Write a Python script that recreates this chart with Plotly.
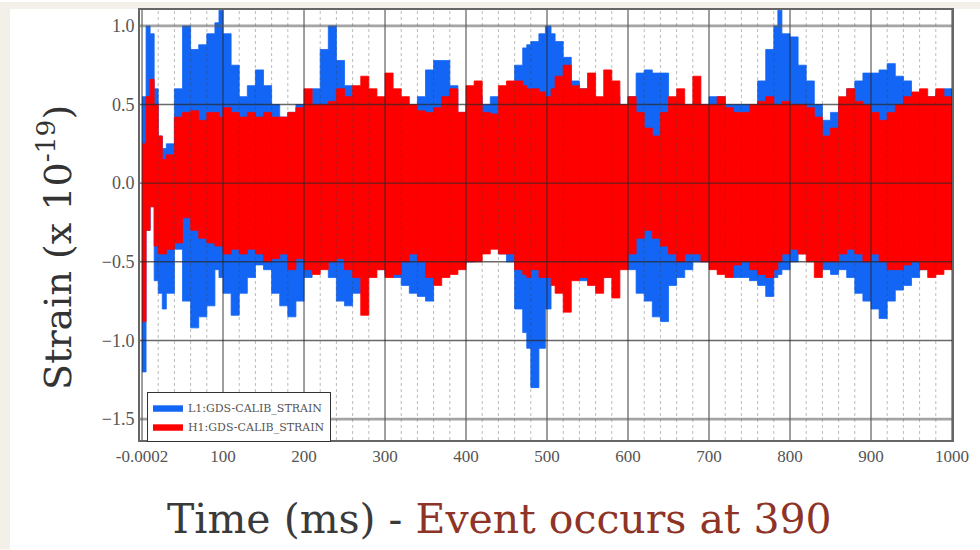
import plotly.graph_objects as go

# ---- data (envelopes of the two strain channels) ----
T = [0, 5, 10, 15, 20, 25, 30,
     40, 50, 60, 70, 80, 90,
     95,
     100, 110, 120, 130, 140, 150, 160, 170, 180, 190,
     200, 210, 220, 230, 240, 250, 260, 270, 280, 290,
     300, 310, 320, 330, 340, 350, 360, 370, 380, 390,
     400, 410, 420, 430, 440, 450, 460, 470,
     475,
     480, 490,
     498, 505,
     510, 520, 530, 540, 550, 560, 570, 580, 590,
     600, 610, 620, 630, 640, 650, 660, 670, 680, 690,
     700, 710, 720, 730, 740, 750, 760, 770, 780,
     785,
     790, 800, 810, 820, 830, 840, 850, 860, 870, 880, 890,
     900, 910, 920, 930, 940, 950, 960, 970, 980, 990, 1000]

L1_UPPER = [0.55, 1.0, 0.95, 0.6, 0.3, 0.22, 0.25,
            0.6, 1.0, 0.85, 0.88, 0.95, 1.02,
            1.1,
            0.95, 0.75, 0.55, 0.62, 0.72, 0.62, 0.5, 0.42, 0.45, 0.5,
            0.5, 0.6, 0.85, 1.0, 0.78, 0.62, 0.55, 0.55, 0.5, 0.5,
            0.55, 0.52, 0.45, 0.45, 0.55, 0.72, 0.78, 0.78, 0.62, 0.45,
            0.5, 0.55, 0.5, 0.55, 0.55, 0.6, 0.75, 0.86,
            0.88,
            0.9, 0.95,
            1.0, 0.95,
            0.9, 0.8, 0.65, 0.6, 0.55, 0.5, 0.55, 0.55, 0.5,
            0.55, 0.7, 0.72, 0.7, 0.7, 0.5, 0.5, 0.45, 0.5, 0.5,
            0.55, 0.55, 0.5, 0.5, 0.5, 0.45, 0.65, 0.85, 1.0,
            1.1,
            0.95, 0.93, 0.75, 0.65, 0.5, 0.4, 0.45, 0.5, 0.6, 0.65, 0.7,
            0.7, 0.72, 0.76, 0.68, 0.65, 0.55, 0.55, 0.55, 0.58, 0.6, 0.55]

L1_LOWER = [-1.2, -0.3, -0.15, -0.62, -0.7, -0.8, -0.7,
            -0.42, -0.75, -0.92, -0.85, -0.78, -0.55,
            -0.6,
            -0.7, -0.84, -0.7, -0.6, -0.52, -0.55, -0.7, -0.78, -0.85, -0.75,
            -0.6, -0.5, -0.5, -0.6, -0.75, -0.78, -0.7, -0.6, -0.55, -0.55,
            -0.58, -0.6, -0.65, -0.7, -0.72, -0.75, -0.6, -0.5, -0.5, -0.52,
            -0.5, -0.45, -0.42, -0.4, -0.45, -0.5, -0.8, -0.95,
            -1.05,
            -1.3, -1.05,
            -0.8, -0.6,
            -0.55, -0.6, -0.55, -0.62, -0.6, -0.6, -0.6, -0.55, -0.5,
            -0.55, -0.7, -0.75, -0.85, -0.88, -0.65, -0.6, -0.55, -0.5, -0.5,
            -0.5, -0.55, -0.55, -0.6, -0.6, -0.62, -0.65, -0.72, -0.6,
            -0.58,
            -0.55, -0.5, -0.45, -0.45, -0.5, -0.55, -0.58, -0.55, -0.6, -0.7, -0.75,
            -0.8, -0.86, -0.75, -0.68, -0.65, -0.6, -0.55, -0.5, -0.5, -0.48, -0.5]

H1_UPPER = [0.25, 0.55, 0.66, 0.5, 0.3, 0.15, 0.18,
            0.42, 0.45, 0.46, 0.4, 0.45, 0.45,
            0.42,
            0.48, 0.45, 0.42, 0.45, 0.42, 0.45, 0.42, 0.42, 0.45, 0.48,
            0.6, 0.5, 0.5, 0.52, 0.6, 0.55, 0.62, 0.68, 0.6, 0.55,
            0.7, 0.6, 0.55, 0.5, 0.46, 0.45, 0.48, 0.55, 0.6, 0.45,
            0.62, 0.65, 0.45, 0.44, 0.62, 0.65, 0.65, 0.62,
            0.6,
            0.6, 0.58,
            0.55, 0.6,
            0.68, 0.75, 0.62, 0.6, 0.7, 0.55, 0.72, 0.65, 0.5,
            0.55, 0.45, 0.35, 0.3, 0.45, 0.55, 0.6, 0.5, 0.68, 0.5,
            0.5, 0.55, 0.48, 0.45, 0.45, 0.5, 0.52, 0.55, 0.5,
            0.5,
            0.52, 0.5, 0.5, 0.48, 0.42, 0.3, 0.35, 0.55, 0.6, 0.52, 0.5,
            0.45, 0.4, 0.45, 0.5, 0.55, 0.58, 0.6, 0.55, 0.6, 0.55, 0.6]

H1_LOWER = [-0.88, -0.3, -0.15, -0.4, -0.45, -0.45, -0.42,
            -0.38, -0.22, -0.3, -0.35, -0.38, -0.4,
            -0.4,
            -0.45, -0.42, -0.45, -0.42, -0.45, -0.5, -0.48, -0.45, -0.55, -0.48,
            -0.55, -0.58, -0.55, -0.5, -0.48, -0.55, -0.6, -0.84, -0.6, -0.55,
            -0.6, -0.58, -0.5, -0.45, -0.5, -0.6, -0.65, -0.6, -0.58, -0.55,
            -0.5, -0.5, -0.45, -0.42, -0.45, -0.45, -0.55, -0.58,
            -0.6,
            -0.55, -0.6,
            -0.6, -0.65,
            -0.7, -0.82, -0.62, -0.6, -0.65, -0.7, -0.6, -0.73, -0.55,
            -0.45, -0.35, -0.3, -0.35, -0.4, -0.45, -0.5, -0.45, -0.45, -0.5,
            -0.55, -0.58, -0.6, -0.52, -0.5, -0.55, -0.58, -0.6, -0.55,
            -0.5,
            -0.45, -0.42, -0.45, -0.5, -0.6, -0.5, -0.5, -0.45, -0.42, -0.45, -0.5,
            -0.45, -0.5, -0.55, -0.55, -0.52, -0.5, -0.55, -0.6, -0.58, -0.55, -0.55]

SERIES_NAMES = ["L1:GDS-CALIB_STRAIN", "H1:GDS-CALIB_STRAIN"]
X_TICKS = [0, 100, 200, 300, 400, 500, 600, 700, 800, 900, 1000]
X_TICK_TEXT = ["-0.0002", "100", "200", "300", "400", "500", "600", "700", "800", "900", "1000"]
Y_TICKS = [1.0, 0.5, 0.0, -0.5, -1.0, -1.5]

assert len(T) == len(L1_UPPER) == len(L1_LOWER) == len(H1_UPPER) == len(H1_LOWER)

BLUE = "#1366f5"
RED = "#ff0000"
SERIF = "Liberation Serif, Times New Roman, serif"
WIDE_SERIF = "DejaVu Serif, serif"

fig = go.Figure()


def add_band(lower, upper, color, name):
    fig.add_trace(go.Scatter(x=T, y=lower, mode="lines", line=dict(width=0.8, color=color, shape="hv"),
                             showlegend=False, legendgroup=name, hoverinfo="skip"))
    fig.add_trace(go.Scatter(x=T, y=upper, mode="lines", line=dict(width=0.8, color=color, shape="hv"),
                             fill="tonexty", fillcolor=color, name=name, legendgroup=name))


add_band(L1_LOWER, L1_UPPER, BLUE, SERIES_NAMES[0])
add_band(H1_LOWER, H1_UPPER, RED, SERIES_NAMES[1])

# gridlines drawn above the data (as in the reference)
shapes = []
for v in X_TICKS:
    shapes.append(dict(type="line", xref="x", yref="paper", x0=v, x1=v, y0=0, y1=1,
                       line=dict(color="rgba(40,40,40,0.75)", width=1.2), layer="above"))
for v in range(20, 1000, 20):
    if v % 100:
        shapes.append(dict(type="line", xref="x", yref="paper", x0=v, x1=v, y0=0, y1=1,
                           line=dict(color="rgba(60,60,60,0.35)", width=1, dash="dot"), layer="above"))
for v in Y_TICKS:
    edge = v in (1.0, -1.5)
    shapes.append(dict(type="line", xref="paper", yref="y", x0=0, x1=1, y0=v, y1=v,
                       line=dict(color="rgba(90,90,90,0.55)" if edge else "rgba(40,40,40,0.7)",
                                 width=2.6 if edge else 1.4), layer="above"))

# cream page background strips (left and top) around the white slide area
shapes.append(dict(type="rect", xref="paper", yref="paper",
                   x0=-140 / 812, x1=-130 / 812, y0=-110 / 432, y1=440 / 432,
                   fillcolor="#f3f0ea", line=dict(width=0), layer="below"))
shapes.append(dict(type="rect", xref="paper", yref="paper",
                   x0=-140 / 812, x1=840 / 812, y0=433 / 432, y1=440 / 432,
                   fillcolor="#f3f0ea", line=dict(width=0), layer="below"))

fig.update_layout(
    width=980, height=550,
    margin=dict(l=140, r=28, t=8, b=110),
    paper_bgcolor="white",
    plot_bgcolor="white",
    shapes=shapes,
    showlegend=True,
    legend=dict(x=0.0086, y=0.111, xanchor="left", yanchor="top",
                bgcolor="white", bordercolor="#333", borderwidth=1,
                font=dict(family=WIDE_SERIF, size=11, color="#555"),
                itemwidth=30, tracegroupgap=0),
    annotations=[
        dict(text="Strain (x 10<sup>-19</sup>)", xref="paper", yref="paper",
             x=(55 - 140) / 812, y=(440 - 247) / 432, xanchor="center", yanchor="middle",
             textangle=-90, showarrow=False, font=dict(family=WIDE_SERIF, size=38, color="#333")),
        dict(text="Time (ms) - <span style='color:#8e3427'>Event occurs at 390</span>",
             xref="paper", yref="paper", x=(499 - 140) / 812, y=(440 - 519) / 432,
             xanchor="center", yanchor="middle", showarrow=False,
             font=dict(family=WIDE_SERIF, size=41, color="#3a3a3a")),
    ],
)

fig.update_xaxes(range=[-2.5, 1000], tickmode="array", tickvals=X_TICKS, ticktext=X_TICK_TEXT,
                 showgrid=False, zeroline=False, showline=True, mirror=True,
                 linecolor="#666", linewidth=2, ticks="",
                 tickfont=dict(family=SERIF, size=17, color="#555"))
fig.update_yaxes(range=[-1.633, 1.101], tickmode="array", tickvals=Y_TICKS,
                 tickformat=".1f", showgrid=False, zeroline=False, showline=True, mirror=True,
                 linecolor="#666", linewidth=2, ticks="",
                 tickfont=dict(family=SERIF, size=18, color="#555"))

fig.write_html("out.html")
